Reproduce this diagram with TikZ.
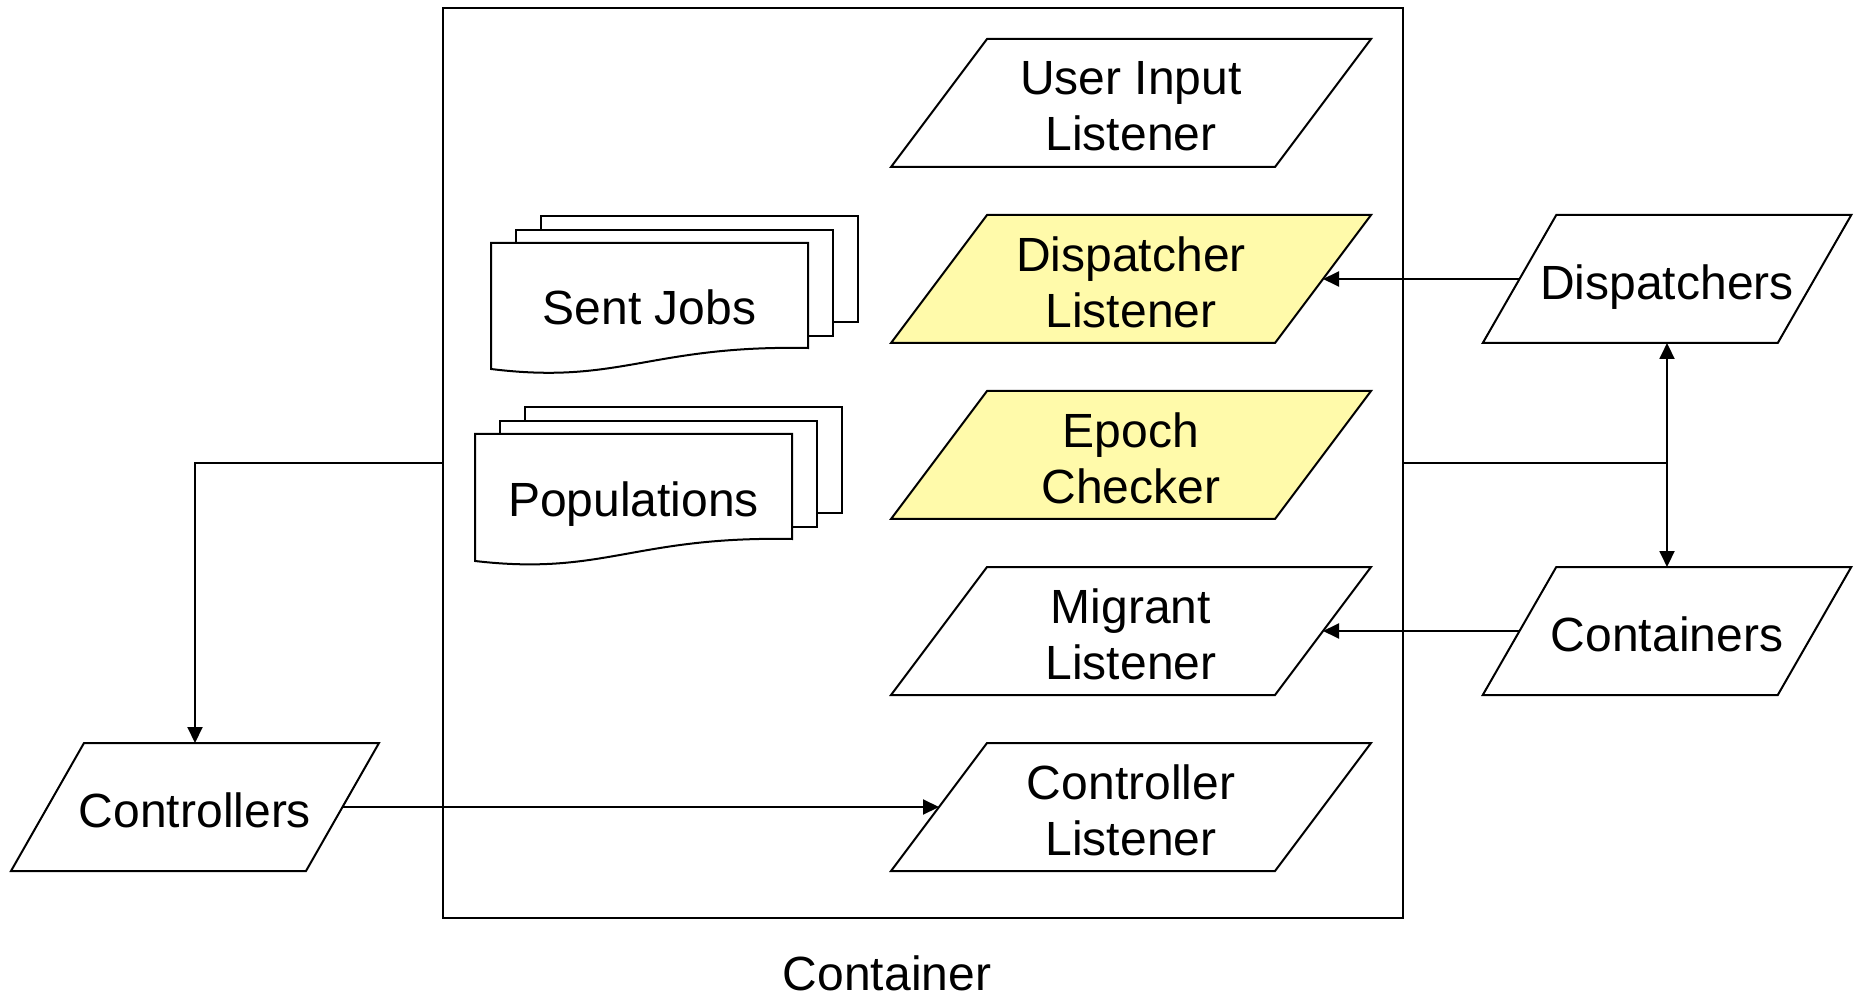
\documentclass[tikz,border=0pt]{standalone}
\usepackage{fontspec}
\setmainfont{Liberation Sans}
\usetikzlibrary{arrows.meta,backgrounds,calc}
\definecolor{paleyellow}{HTML}{FFFAAA}
\tikzset{
  lbl/.style={align=center, inner sep=0pt, outer sep=0pt, text=black,
    font=\fontsize{24}{28}\selectfont},
  onelbl/.style={lbl, text depth=0pt},
  shapebox/.style={inner sep=0pt, outer sep=0pt},
  listener/.style={shapebox, minimum width=192pt, minimum height=64pt,
    label={[lbl, yshift=-1.75pt]center:{#1}}},
  extbox/.style={shapebox, minimum width=147.5pt, minimum height=64pt,
    label={[onelbl, yshift=-1.75pt]center:{#1}}},
  docbox/.style={shapebox, minimum width=158.5pt},
  parabox/.style={draw=black, line width=1pt, fill=white, line join=miter},
  yellowbox/.style={parabox, fill=paleyellow},
  conn/.style={draw=black, line width=1pt},
  arr/.style={conn, -{Triangle[length=8pt,width=7.5pt]}},
  darr/.style={conn, {Triangle[length=8pt,width=7.5pt]}-{Triangle[length=8pt,width=7.5pt]}},
}
% parallelogram outline around a rectangular node: name, half skew (px), style
\newcommand\paraoutline[3]{%
  \path[#3] ($(#1.south west)+(-#2,0)$) -- ($(#1.north west)+(#2,0)$)
    -- ($(#1.north east)+(#2,0)$) -- ($(#1.south east)+(-#2,0)$) -- cycle;}
% stacked document outline around a node
\newcommand\docstack[1]{%
  \path[parabox] ($(#1.north west)+(50,-27)$) rectangle ($(#1.north east)+(50,79)$);
  \path[parabox] ($(#1.north west)+(25,-13)$) rectangle ($(#1.north east)+(25,93)$);
  \path[parabox] (#1.north west) -- (#1.north east) -- ($(#1.north east)+(0,105)$)
    .. controls ($(#1.north east)+(-158,102)$) and ($(#1.north west)+(129,142)$) .. (#1.south west) -- cycle;}
\begin{document}
\begin{tikzpicture}[x=0.5pt,y=-0.5pt]
\useasboundingbox (0,0) rectangle (1862,999);

% container
\node[draw=black, line width=1pt, minimum width=480pt, minimum height=455pt,
      shapebox] (cont) at (923,463) {};
\node[onelbl, anchor=base] (contlbl) at (887,990) {Container};

% listeners
\node[listener={User Input\\Listener}] (ui) at (1131,103) {};
\node[listener={Dispatcher\\Listener}] (dl) at (1131,279) {};
\node[listener={Epoch\\Checker}] (ec) at (1131,455) {};
\node[listener={Migrant\\Listener}] (ml) at (1131,631) {};
\node[listener={Controller\\Listener}] (cl) at (1131,807) {};

% external parties
\node[extbox={Dispatchers}] (disp) at (1667,279) {};
\node[extbox={Containers}] (conts) at (1667,631) {};
\node[extbox={Controllers}] (ctrls) at (195,807) {};

% documents
\node[docbox, minimum height=63pt,
      label={[onelbl, yshift=-0.75pt]center:Sent Jobs}] (sj) at (649.5,306) {};
\node[docbox, minimum height=63.5pt,
      label={[onelbl, yshift=-1pt]center:Populations}] (pop) at (633.5,497.5) {};

\begin{pgfonlayer}{background}
  \paraoutline{ui}{48}{parabox}
  \paraoutline{dl}{48}{yellowbox}
  \paraoutline{ec}{48}{yellowbox}
  \paraoutline{ml}{48}{parabox}
  \paraoutline{cl}{48}{parabox}
  \paraoutline{disp}{36.75}{parabox}
  \paraoutline{conts}{36.75}{parabox}
  \paraoutline{ctrls}{36.5}{parabox}
  \docstack{sj}
  \docstack{pop}
\end{pgfonlayer}

% connectors
\draw[arr] (disp.west) -- (dl.east);
\draw[arr] (conts.west) -- (ml.east);
\draw[darr] (disp.south) -- (conts.north);
\coordinate (junc) at (cont.east -| disp.south);
\draw[conn] (cont.east) -- (junc);
\draw[arr] (cont.west) -| (ctrls.north);
\draw[arr] (ctrls.east) -- (cl.west);
\end{tikzpicture}
\end{document}
